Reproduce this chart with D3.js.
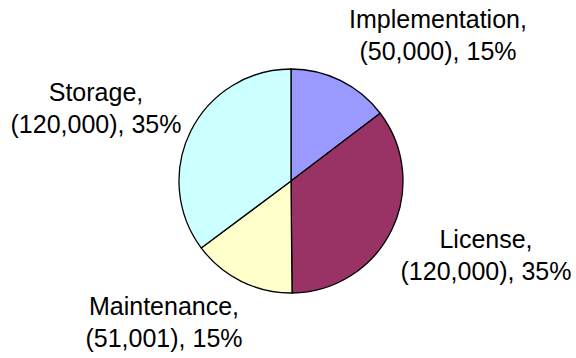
<!DOCTYPE html>
<html><head><meta charset="utf-8">
<script src="https://cdn.jsdelivr.net/npm/d3@7"></script>
<style>html,body{margin:0;padding:0;background:#fff;}svg{display:block;}</style>
</head><body>
<svg id="c" width="576" height="358"></svg>
<script>
const categories = ["Implementation", "License", "Maintenance", "Storage"];
const values = [50000, 120000, 51001, 120000];
const colors = ["#9999FF", "#993366", "#FFFFCC", "#CCFFFF"];
// label anchor positions (layout only)
const labelPos = [[438, 28], [486, 248], [164, 315], [96, 101]];

const svg = d3.select("#c");
const cx = 291, cy = 181, r = 112;
const g = svg.append("g").attr("transform", `translate(${cx},${cy})`);
const pie = d3.pie().sort(null).value(d => d)(values);
const arc = d3.arc().innerRadius(0).outerRadius(r);
g.selectAll("path").data(pie).join("path")
  .attr("d", arc).attr("fill", (d, i) => colors[i])
  .attr("stroke", "#000").attr("stroke-width", 1.3).attr("stroke-linejoin", "round");

const total = d3.sum(values);
const fmt = d3.format(",");
const lab = svg.selectAll("text.l").data(categories).join("text")
  .attr("class", "l")
  .attr("text-anchor", "middle")
  .attr("font-family", "Liberation Sans, Arial, sans-serif")
  .attr("font-size", 25)
  .attr("fill", "#000")
  .attr("transform", (d, i) => `translate(${labelPos[i][0]},${labelPos[i][1]})`);
lab.append("tspan").attr("x", 0).attr("y", 0).text(d => d + ",");
lab.append("tspan").attr("x", 0).attr("y", 32)
  .text((d, i) => `(${fmt(values[i])}), ${Math.round(values[i] / total * 100)}%`);
</script>
</body></html>
